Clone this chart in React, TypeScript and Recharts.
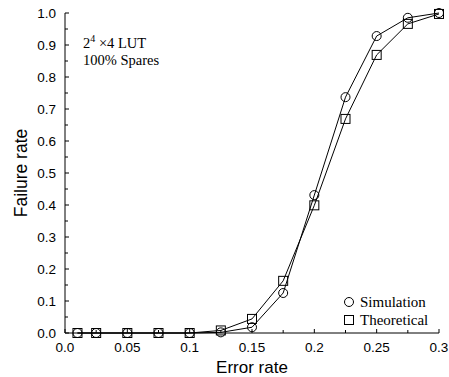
import React from 'react';
import { LineChart, Line, XAxis, YAxis, Legend } from 'recharts';

const errorRates = [0.01, 0.025, 0.05, 0.075, 0.1, 0.125, 0.15, 0.175, 0.2, 0.225, 0.25, 0.275, 0.3];
const simulation = [0, 0, 0, 0, 0, 0.002, 0.018, 0.125, 0.431, 0.737, 0.928, 0.985, 1.0];
const theoretical = [0, 0, 0, 0, 0, 0.008, 0.044, 0.163, 0.399, 0.669, 0.869, 0.966, 0.997];

const xMajorTicks = [0, 0.05, 0.1, 0.15, 0.2, 0.25, 0.3];
const xTickLabels = ['0.0', '0.05', '0.1', '0.15', '0.2', '0.25', '0.3'];
const xMinorTicks = [0.025, 0.075, 0.125, 0.175, 0.225, 0.275];
const yMajorTicks = [0, 0.1, 0.2, 0.3, 0.4, 0.5, 0.6, 0.7, 0.8, 0.9, 1.0];
const yTickLabels = ['0.0', '0.1', '0.2', '0.3', '0.4', '0.5', '0.6', '0.7', '0.8', '0.9', '1.0'];
const yMinorTicks = [0.05, 0.15, 0.25, 0.35, 0.45, 0.55, 0.65, 0.75, 0.85, 0.95];

const data = errorRates.map((x, i) => ({ x, sim: simulation[i], theo: theoretical[i] }));

const SANS = '"Liberation Sans", Arial, sans-serif';
const SERIF = '"Liberation Serif", "Times New Roman", serif';
const W = 449;
const H = 377;
const MAJOR = 4;
const MINOR = 3;

const findIdx = (arr: number[], v: number) => arr.findIndex((t) => Math.abs(t - v) < 1e-9);

const BottomTick = (props: any) => {
  const { x, y, payload } = props;
  const i = findIdx(xMajorTicks, payload.value);
  const len = i >= 0 ? MAJOR : MINOR;
  return (
    <g>
      <line x1={x} y1={y} x2={x} y2={y - len} stroke="#000" strokeWidth={1} />
      {i >= 0 && (
        <text x={x} y={y + 19} textAnchor="middle" fontFamily={SANS} fontSize={13.5} fill="#000">
          {xTickLabels[i]}
        </text>
      )}
    </g>
  );
};

const TopTick = (props: any) => {
  const { x, y, payload } = props;
  const len = findIdx(xMajorTicks, payload.value) >= 0 ? MAJOR : MINOR;
  return <line x1={x} y1={y} x2={x} y2={y + len} stroke="#000" strokeWidth={1} />;
};

const LeftTick = (props: any) => {
  const { x, y, payload } = props;
  const i = findIdx(yMajorTicks, payload.value);
  const len = i >= 0 ? MAJOR : MINOR;
  return (
    <g>
      <line x1={x} y1={y} x2={x + len} y2={y} stroke="#000" strokeWidth={1} />
      {i >= 0 && (
        <text x={x - 9} y={y + 5} textAnchor="end" fontFamily={SANS} fontSize={13.5} fill="#000">
          {yTickLabels[i]}
        </text>
      )}
    </g>
  );
};

const RightTick = (props: any) => {
  const { x, y, payload } = props;
  const len = findIdx(yMajorTicks, payload.value) >= 0 ? MAJOR : MINOR;
  return <line x1={x} y1={y} x2={x - len} y2={y} stroke="#000" strokeWidth={1} />;
};

const CircleDot = (props: any) => {
  const { cx, cy } = props;
  if (cx == null || cy == null) return null;
  return <circle cx={cx} cy={cy} r={4.5} fill="none" stroke="#000" strokeWidth={1} />;
};

const SquareDot = (props: any) => {
  const { cx, cy } = props;
  if (cx == null || cy == null) return null;
  return <rect x={cx - 4.5} y={cy - 4.5} width={9} height={9} fill="none" stroke="#000" strokeWidth={1} />;
};

const LegendContent = () => (
  <svg width={100} height={40} style={{ display: 'block' }}>
    <circle cx={8} cy={10} r={4.5} fill="none" stroke="#000" strokeWidth={1} />
    <text x={19} y={15} fontFamily={SERIF} fontSize={15} fill="#000">Simulation</text>
    <rect x={3.5} y={23.5} width={9} height={9} fill="none" stroke="#000" strokeWidth={1} />
    <text x={19} y={33} fontFamily={SERIF} fontSize={15} fill="#000">Theoretical</text>
  </svg>
);

export default function App() {
  const allX = [...xMajorTicks, ...xMinorTicks].sort((a, b) => a - b);
  const allY = [...yMajorTicks, ...yMinorTicks].sort((a, b) => a - b);
  return (
    <div style={{ position: 'absolute', left: 0, top: 0, width: W, height: H, background: '#fff' }}>
      <LineChart width={W} height={H} data={data} margin={{ top: 13, right: 10, bottom: 0, left: 0 }}>
        <XAxis
          xAxisId="b"
          dataKey="x"
          type="number"
          domain={[0, 0.3]}
          ticks={allX}
          interval={0}
          tick={<BottomTick />}
          tickLine={false}
          tickSize={0}
          tickMargin={0}
          height={44}
          axisLine={{ stroke: '#000' }}
          label={{ value: 'Error rate', position: 'insideBottom', offset: 4, fontFamily: SANS, fontSize: 17, fill: '#000' }}
        />
        <XAxis
          xAxisId="t"
          orientation="top"
          dataKey="x"
          type="number"
          domain={[0, 0.3]}
          allowDataOverflow
          ticks={allX}
          interval={0}
          tick={<TopTick />}
          tickLine={false}
          tickSize={0}
          tickMargin={0}
          height={0}
          axisLine={{ stroke: '#000' }}
        />
        <YAxis
          yAxisId="l"
          type="number"
          domain={[0, 1]}
          ticks={allY}
          interval={0}
          tick={<LeftTick />}
          tickLine={false}
          tickSize={0}
          tickMargin={0}
          width={65}
          axisLine={{ stroke: '#000' }}
          label={{ value: 'Failure rate', angle: -90, position: 'insideLeft', offset: 21, style: { textAnchor: 'middle' }, fontFamily: SANS, fontSize: 17.5, fill: '#000' }}
        />
        <YAxis
          yAxisId="r"
          orientation="right"
          type="number"
          domain={[0, 1]}
          allowDataOverflow
          ticks={allY}
          interval={0}
          tick={<RightTick />}
          tickLine={false}
          tickSize={0}
          tickMargin={0}
          width={0}
          axisLine={{ stroke: '#000' }}
        />
        <Line
          xAxisId="b"
          yAxisId="l"
          type="linear"
          dataKey="sim"
          name="Simulation"
          stroke="#000"
          strokeWidth={1}
          dot={<CircleDot />}
          activeDot={false}
          isAnimationActive={false}
        />
        <Line
          xAxisId="b"
          yAxisId="l"
          type="linear"
          dataKey="theo"
          name="Theoretical"
          stroke="#000"
          strokeWidth={1}
          dot={<SquareDot />}
          activeDot={false}
          isAnimationActive={false}
        />
        <Legend
          layout="vertical"
          align="center"
          verticalAlign="middle"
          content={<LegendContent />}
          wrapperStyle={{ left: 341, top: 292, width: 100, height: 40 }}
        />
        <text x={83} y={48} fontFamily={SERIF} fontSize={14.5} fill="#000">
          <tspan>2</tspan>
          <tspan dy={-6} fontSize={10}>4</tspan>
          <tspan dy={6}> ×4 LUT</tspan>
        </text>
        <text x={83} y={65} fontFamily={SERIF} fontSize={14.5} fill="#000">100% Spares</text>
      </LineChart>
    </div>
  );
}
